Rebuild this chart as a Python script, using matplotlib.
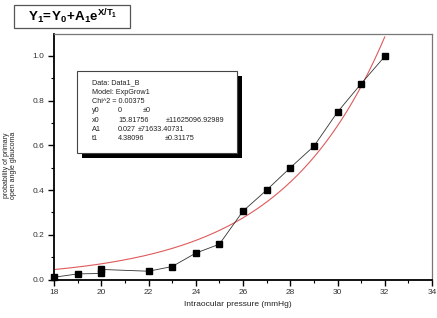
import numpy as np
import matplotlib
matplotlib.use("Agg")
import matplotlib.pyplot as plt
from matplotlib.patches import Rectangle
from matplotlib.ticker import MultipleLocator

plt.rcParams['font.family'] = ['Liberation Sans', 'DejaVu Sans']
plt.rcParams['mathtext.fontset'] = 'custom'
plt.rcParams['mathtext.rm'] = 'Liberation Sans'
plt.rcParams['mathtext.it'] = 'Liberation Sans'
plt.rcParams['mathtext.bf'] = 'Liberation Sans:bold'

# data
pressure = [18, 19, 20, 20, 22, 23, 24, 25, 26, 27, 28, 29, 30, 31, 32]
probability = [0.01, 0.025, 0.027, 0.045, 0.037, 0.058, 0.118, 0.158, 0.306,
               0.40, 0.50, 0.596, 0.749, 0.876, 0.998]

# fit parameters shown in the chart (ExpGrow1)
y0 = 0.0
x0 = 15.81756
A1 = 0.027
t1 = 4.38096

W, H = 437, 318
fig = plt.figure(figsize=(W / 100, H / 100), dpi=100)

def fx(px):
    return px / W

def fy(py):
    return 1 - py / H

ax = fig.add_axes([fx(54), fy(279.5), fx(432) - fx(54), fy(34.3) - fy(279.5)])

xf = np.linspace(18, 32, 300)
yf = y0 + A1 * np.exp((xf - x0) / t1)
ax.plot(xf, yf, color='#e05a5a', lw=0.8, zorder=2)
ax.plot(pressure, probability, color='#333333', lw=0.6, marker='s', ms=4.6,
        mfc='black', mec='black', zorder=3, clip_on=False)

ax.set_xlim(18, 34)
ax.set_ylim(0, 1.097)
ax.xaxis.set_major_locator(MultipleLocator(2))
ax.xaxis.set_minor_locator(MultipleLocator(1))
ax.yaxis.set_major_locator(MultipleLocator(0.2))
ax.yaxis.set_minor_locator(MultipleLocator(0.1))
ax.yaxis.set_major_formatter(matplotlib.ticker.FormatStrFormatter('%.1f'))

for s in ['left', 'bottom']:
    ax.spines[s].set_color('black')
    ax.spines[s].set_linewidth(1.3)
for s in ['top', 'right']:
    ax.spines[s].set_color('#777777')
    ax.spines[s].set_linewidth(0.9)

ax.tick_params(which='major', direction='out', length=4, width=1, labelsize=6,
               colors='black', pad=3)
ax.tick_params(which='minor', direction='out', length=2, width=0.8)
ax.tick_params(axis='y', labelcolor='#333333')
ax.tick_params(axis='x', labelcolor='#333333')

fig.text(fx(238), fy(304), 'Intraocular pressure (mmHg)', ha='center', va='center',
         fontsize=6, color='#222222')
fig.text(fx(10), fy(165), 'probability of primary\nopen angle glaucoma', ha='center',
         va='center', rotation=90, fontsize=5, color='#222222', linespacing=1.1)

# title box with equation
fig.patches.append(Rectangle((fx(14), fy(28)), fx(130) - fx(14), fy(5) - fy(28),
                             transform=fig.transFigure, facecolor='white',
                             edgecolor='#555555', lw=0.9))
fig.text(fx(73), fy(16.5), r'$\mathbf{Y_1\!=\!Y_0\!+\!A_1e^{X/T_1}}$', ha='center',
         va='center', fontsize=9.6, color='black')

# annotation box with shadow
fig.patches.append(Rectangle((fx(82), fy(158)), fx(242) - fx(82), fy(76) - fy(158),
                             transform=fig.transFigure, facecolor='black',
                             edgecolor='black', lw=0, zorder=5))
fig.patches.append(Rectangle((fx(77), fy(153)), fx(237) - fx(77), fy(71) - fy(153),
                             transform=fig.transFigure, facecolor='white',
                             edgecolor='#444444', lw=0.8, zorder=6))

lines = [
    ('Data: Data1_B', None, None),
    ('Model: ExpGrow1', None, None),
    ('Chi^2 = 0.00375', None, None),
    ('y0', ('0', 118), ('\u00b10', 143)),
    ('x0', ('15.81756', 118), ('\u00b111625096.92989', 166)),
    ('A1', ('0.027', 118), ('\u00b171633.40731', 138)),
    ('t1', ('4.38096', 118), ('\u00b10.31175', 165)),
]
ys = [83, 92.3, 101.6, 110.9, 120.2, 129.5, 138.8]
for (lab, v, e), yy in zip(lines, ys):
    fig.text(fx(92), fy(yy), lab, ha='left', va='center', fontsize=5.2,
             color='#222222', zorder=7)
    if v:
        fig.text(fx(v[1]), fy(yy), v[0], ha='left', va='center', fontsize=5.2,
                 color='#222222', zorder=7)
    if e:
        fig.text(fx(e[1]), fy(yy), e[0], ha='left', va='center', fontsize=5.2,
                 color='#222222', zorder=7)

fig.savefig('out.png', dpi=100)
